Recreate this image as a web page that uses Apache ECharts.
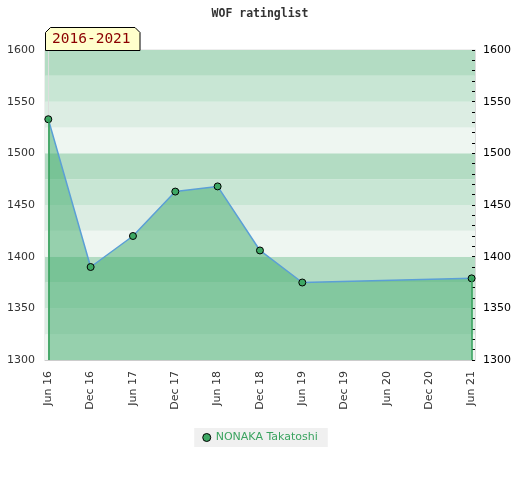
<!DOCTYPE html>
<html>
<head>
<meta charset="utf-8">
<script src="https://cdn.jsdelivr.net/npm/echarts@6/dist/echarts.min.js"></script>
<style>
    html, body { margin: 0; padding: 0; background: #fff; }
    #chart { width: 520px; height: 480px; }
</style>
</head>
<body>
<div id="chart"></div>
<script>
// half-year steps from Jun 2016
var tickLabels = ['Jun 16', 'Dec 16', 'Jun 17', 'Dec 17', 'Jun 18', 'Dec 18', 'Jun 19', 'Dec 19', 'Jun 20', 'Dec 20', 'Jun 21'];
var pointSteps = [0, 1, 2, 3, 4, 5, 6, 10];
var ratings = [1533, 1390, 1420, 1463, 1468, 1406, 1375, 1379];
var playerName = 'NONAKA Takatoshi';
var bandColors = ['#eef6f1', '#dcede3', '#c8e6d4', '#b3dcc3'];

window.onload = function () {
    var yMin = 1300, yMax = 1600;
    var last = pointSteps.length - 1;
    var seriesData = pointSteps.map(function (s, i) { return [s, ratings[i]]; });
    var plainNum = function (v) { return String(v); };

    echarts.init(document.getElementById('chart')).setOption({
        animation: false,
        title: {
            text: 'WOF ratinglist',
            left: 'center',
            top: 3,
            textStyle: {
                fontFamily: 'DejaVu Sans Mono',
                fontSize: 11.5,
                fontWeight: 'bold',
                color: '#333'
            }
        },
        graphic: [
            {
                type: 'polygon',
                shape: {
                    points: [[45.5, 50.5], [45.5, 32.5], [50.5, 27.5], [135, 27.5], [140, 32.5], [140, 50.5]]
                },
                style: { fill: '#ffffcc', stroke: '#000', lineWidth: 1 },
                z: 10
            },
            {
                type: 'text',
                left: 52,
                top: 32,
                style: {
                    text: '2016-2021',
                    fill: '#8b0000',
                    font: '14.5px "DejaVu Sans Mono"'
                },
                z: 11
            }
        ],
        grid: {
            left: 45,
            right: 45,
            top: 50,
            bottom: 120,
            show: true,
            borderColor: '#dddddd',
            borderWidth: 1
        },
        legend: {
            bottom: 33,
            left: 'center',
            icon: 'circle',
            itemWidth: 8,
            itemHeight: 8,
            itemGap: 8,
            backgroundColor: '#f0f0f0',
            padding: [4, 10, 4, 8],
            itemStyle: { color: '#3ea864', borderColor: '#000', borderWidth: 1 },
            textStyle: { color: '#3aa35f', fontSize: 11, fontFamily: 'DejaVu Sans' }
        },
        xAxis: {
            type: 'value',
            min: -0.078,
            max: 10.08,
            axisLine: { show: true, lineStyle: { color: '#cccccc' } },
            axisTick: { show: false },
            splitLine: { show: false },
            axisLabel: {
                customValues: tickLabels.map(function (t, i) { return i; }),
                rotate: 90,
                margin: 11,
                color: '#333',
                fontSize: 11,
                fontFamily: 'DejaVu Sans',
                formatter: function (v) { return tickLabels[Math.round(v)]; }
            }
        },
        yAxis: [
            {
                type: 'value',
                position: 'left',
                min: yMin,
                max: yMax,
                interval: 50,
                axisLine: { show: true, lineStyle: { color: '#dddddd' } },
                axisTick: { show: false },
                splitLine: { show: false },
                axisLabel: { color: '#333', fontSize: 11, fontFamily: 'DejaVu Sans', margin: 10, formatter: plainNum }
            },
            {
                type: 'value',
                position: 'right',
                min: yMin,
                max: yMax,
                interval: 50,
                axisLine: { show: true, lineStyle: { color: '#dddddd' } },
                axisTick: { show: true, inside: true, length: 3, lineStyle: { color: '#000' } },
                minorTick: { show: true, splitNumber: 5, length: 3, lineStyle: { color: '#000' } },
                splitLine: { show: false },
                axisLabel: { color: '#000', fontSize: 11, fontFamily: 'DejaVu Sans', margin: 8, formatter: plainNum }
            },
            {
                // background bands only
                type: 'value',
                position: 'left',
                min: yMin,
                max: yMax,
                interval: 25,
                axisLine: { show: false },
                axisTick: { show: false },
                axisLabel: { show: false },
                splitLine: { show: false },
                splitArea: { show: true, areaStyle: { color: bandColors } }
            }
        ],
        series: [
            {
                name: playerName,
                type: 'line',
                yAxisIndex: 0,
                data: seriesData,
                symbol: 'circle',
                symbolSize: 7,
                itemStyle: { color: '#3ea864', borderColor: '#000', borderWidth: 1 },
                lineStyle: { color: '#5b9fd6', width: 1.5 },
                areaStyle: { color: 'rgba(62, 170, 105, 0.5)', opacity: 1, origin: 'start' },
                markLine: {
                    silent: true,
                    symbol: ['none', 'none'],
                    label: { show: false },
                    lineStyle: { color: '#2e9e56', width: 1.5, type: 'solid' },
                    data: [
                        [{ coord: [pointSteps[0], ratings[0]] }, { coord: [pointSteps[0], yMin] }],
                        [{ coord: [pointSteps[last], ratings[last]] }, { coord: [pointSteps[last], yMin] }]
                    ]
                }
            }
        ]
    });
};
</script>
</body>
</html>
